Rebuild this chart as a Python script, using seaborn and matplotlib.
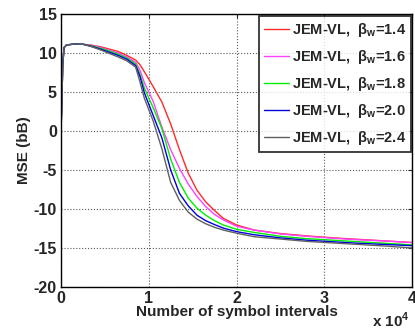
import pandas as pd
import numpy as np
import matplotlib
matplotlib.use("Agg")
import matplotlib.pyplot as plt
import seaborn as sns
from matplotlib.ticker import FuncFormatter

# simbolos (x 1e4) e MSE
x_inicio = [0, 0.01, 0.02, 0.035, 0.06, 0.08, 0.15, 0.25]
x_resto = [0.35, 0.45, 0.55, 0.65, 0.75, 0.85, 0.9, 0.95, 1.05, 1.15, 1.25, 1.35, 1.45,
           1.55, 1.65, 1.75, 1.85, 2.0, 2.2, 2.5, 2.8, 3.1, 3.4, 3.7, 4.0]

mse_inicio = [-0.2, 4.0, 8.5, 10.7, 11.0, 11.05, 11.15, 11.12]

mse_14 = [11.0, 10.8, 10.5, 10.2, 9.7, 9.1, 8.5, 7.6, 5.7, 3.7, 0.9, -2.4, -5.4,
          -7.6, -9.1, -10.2, -11.2, -12.05, -12.7, -13.15, -13.45, -13.7, -13.9, -14.1, -14.3]
mse_16 = [10.95, 10.7, 10.35, 10.0, 9.5, 8.8, 7.8, 6.2, 3.8, 0.5, -2.4, -4.8, -6.8,
          -8.4, -9.7, -10.7, -11.4, -12.2, -12.7, -13.2, -13.5, -13.75, -13.95, -14.1, -14.3]
mse_18 = [10.9, 10.6, 10.25, 9.85, 9.35, 8.6, 7.3, 5.5, 3.0, 0.3, -3.6, -6.6, -8.6,
          -9.9, -10.8, -11.5, -12.05, -12.6, -13.0, -13.5, -13.8, -14.0, -14.2, -14.4, -14.6]
mse_20 = [10.85, 10.5, 10.1, 9.7, 9.2, 8.4, 7.0, 4.9, 2.0, -0.9, -5.0, -8.0, -9.6,
          -10.8, -11.5, -12.0, -12.45, -12.9, -13.3, -13.7, -14.0, -14.2, -14.4, -14.55, -14.7]
mse_24 = [10.8, 10.4, 9.95, 9.5, 9.0, 8.2, 6.3, 4.2, 1.3, -2.3, -6.6, -8.9, -10.4,
          -11.3, -11.9, -12.35, -12.7, -13.1, -13.55, -13.85, -14.15, -14.35, -14.55, -14.75, -15.0]

betas = ['1.4', '1.6', '1.8', '2.0', '2.4']
series = [mse_14, mse_16, mse_18, mse_20, mse_24]
cores = ['#ff2a2a', '#ff40ff', '#00ee00', '#0000dd', '#606060']

linhas = []
for b, s in zip(betas, series):
    rotulo = 'JEM-VL,  β$_\\mathbf{w}$=' + b
    for xv, yv in zip(x_inicio + x_resto, mse_inicio + s):
        linhas.append({'simbolos': xv * 1e4, 'mse': yv, 'curva': rotulo})
df = pd.DataFrame(linhas)

sns.set_style('white')
plt.rcParams['font.family'] = ['Liberation Sans', 'DejaVu Sans']
plt.rcParams['font.weight'] = 'bold'
plt.rcParams['axes.unicode_minus'] = False
plt.rcParams['mathtext.fontset'] = 'custom'
plt.rcParams['mathtext.bf'] = 'Liberation Sans:bold'
plt.rcParams['mathtext.rm'] = 'Liberation Sans:bold'

fig = plt.figure(figsize=(4.15, 3.31), dpi=100)
ax = fig.add_axes([61 / 415, 1 - 287 / 331, 351 / 415, 273 / 331])

sns.lineplot(data=df, x='simbolos', y='mse', hue='curva', palette=cores,
             linewidth=1.0, ax=ax, sort=False, estimator=None)

ax.set_xlim(0, 40000)
ax.set_ylim(-20, 15)
ax.set_xticks([0, 10000, 20000, 30000, 40000])
ax.set_yticks([-20, -15, -10, -5, 0, 5, 10, 15])
ax.xaxis.set_major_formatter(FuncFormatter(lambda v, p: '%d' % (v / 1e4)))
ax.grid(True, linestyle=':', color='0.35', linewidth=0.8)
ax.tick_params(direction='in', top=True, right=True, length=3, labelsize=11.5, pad=3)
for t in ax.get_xticklabels() + ax.get_yticklabels():
    t.set_fontweight('bold')
for sp in ax.spines.values():
    sp.set_linewidth(1.0)
    sp.set_color('black')

ax.set_xlabel('Number of symbol intervals', fontsize=11, fontweight='bold', labelpad=-1)
ax.set_ylabel('MSE (bB)', fontsize=11, fontweight='bold', labelpad=2)
fig.text(410 / 415, 0.004, 'x 10$^4$', ha='right', va='bottom',
         fontsize=11, fontweight='bold')

leg = ax.legend(loc='upper right', bbox_to_anchor=(0.997, 0.993), fontsize=10.5,
                frameon=True, fancybox=False, handlelength=1.75, handletextpad=0.15,
                labelspacing=0.62, borderpad=0.35, borderaxespad=0.0)
leg.get_frame().set_edgecolor('black')
leg.get_frame().set_linewidth(1.3)
for t in leg.get_texts():
    t.set_fontweight('bold')

fig.savefig('out.png', dpi=100)
